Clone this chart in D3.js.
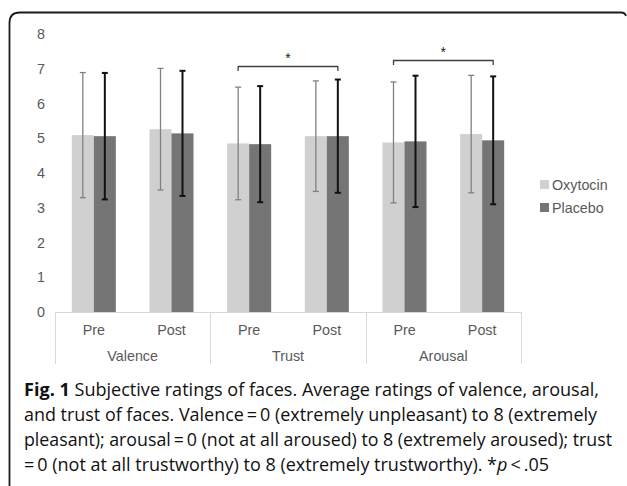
<!DOCTYPE html>
<html><head><meta charset="utf-8">
<script src="https://cdn.jsdelivr.net/npm/d3@7"></script>
<style>body{margin:0;background:#fff}svg{display:block}</style>
</head><body>
<svg id="c" width="627" height="486"></svg>
<script>
// ---- data ----
const groups = ["Valence", "Trust", "Arousal"];
const phases = ["Pre", "Post"];
const seriesNames = ["Oxytocin", "Placebo"];
const oxytocinMean = [5.09, 5.26, 4.85, 5.06, 4.88, 5.12];
const placeboMean  = [5.06, 5.14, 4.83, 5.06, 4.91, 4.94];
const oxytocinSD   = [1.80, 1.75, 1.62, 1.59, 1.74, 1.69];
const placeboSD    = [1.82, 1.80, 1.67, 1.63, 1.89, 1.84];
const yTicks = [0, 1, 2, 3, 4, 5, 6, 7, 8];
const sigGroups = ["Trust", "Arousal"];
const sigLevels = [7.07, 7.25];
const captionBold = "Fig. 1";
const captionLines = [
  " Subjective ratings of faces. Average ratings of valence, arousal,",
  "and trust of faces. Valence\u2009=\u20090 (extremely unpleasant) to 8 (extremely",
  "pleasant); arousal\u2009=\u20090 (not at all aroused) to 8 (extremely aroused); trust",
  "=\u20090 (not at all trustworthy) to 8 (extremely trustworthy). *"
];

const svg = d3.select("#c");
const fill = ["#d0d0d0", "#757575"];
const errCol = ["#808080", "#111111"];
const errW = [1.3, 2];
const axisCol = "#595959";
const font = "'Liberation Sans', Arial, sans-serif";

// frame
svg.append("path")
  .attr("d", "M9.5,486 V23 Q9.5,12.5 20,12.5 H621 Q625,12.5 626,16")
  .attr("fill", "none").attr("stroke", "#1a1a1a").attr("stroke-width", 1.8);

// scales
const y = d3.scaleLinear().domain([0, 8]).range([312, 34]);
const cats = [];
groups.forEach(g => phases.forEach(p => cats.push(g + "|" + p)));
const x0 = d3.scaleBand().domain(cats).range([55, 521]).paddingInner(0).paddingOuter(0);
const xg = d3.scaleBand().domain(groups).range([55, 521]);
const bw = 22;
const xs = d3.scaleBand().domain(seriesNames).range([-bw, bw]);

// y axis labels
const yAxis = d3.axisLeft(y).tickValues(yTicks).tickSize(0).tickPadding(0);
const ya = svg.append("g").attr("transform", "translate(45,0)").call(yAxis);
ya.select(".domain").remove();
ya.selectAll("text").attr("font-family", font).attr("font-size", 14.3).attr("fill", axisCol);

// category axis
const axG = svg.append("g");
axG.append("line").attr("x1", 55).attr("x2", 521).attr("y1", y(0) + 0.5).attr("y2", y(0) + 0.5)
  .attr("stroke", "#d9d9d9").attr("stroke-width", 1);
const bounds = groups.map(g => xg(g)).concat([xg.range()[1]]);
axG.selectAll("line.sep").data(bounds).join("line").attr("class", "sep")
  .attr("x1", d => Math.round(d) + 0.5).attr("x2", d => Math.round(d) + 0.5)
  .attr("y1", y(0)).attr("y2", 364).attr("stroke", "#d9d9d9");
axG.selectAll("text.ph").data(cats).join("text").attr("class", "ph")
  .attr("x", d => x0(d) + x0.bandwidth() / 2).attr("y", 335)
  .attr("text-anchor", "middle").attr("font-family", font).attr("font-size", 14.3).attr("fill", axisCol)
  .text(d => d.split("|")[1]);
axG.selectAll("text.gr").data(groups).join("text").attr("class", "gr")
  .attr("x", d => xg(d) + xg.bandwidth() / 2).attr("y", 361)
  .attr("text-anchor", "middle").attr("font-family", font).attr("font-size", 14.3).attr("fill", axisCol)
  .text(d => d);

// bars
const means = [oxytocinMean, placeboMean];
const sds = [oxytocinSD, placeboSD];
seriesNames.forEach((s, si) => {
  const data = cats.map((c, i) => ({ c, v: means[si][i], sd: sds[si][i] }));
  const cx = d => x0(d.c) + x0.bandwidth() / 2 + xs(s);
  svg.append("g").selectAll("rect").data(data).join("rect")
    .attr("x", cx).attr("width", xs.bandwidth())
    .attr("y", d => y(d.v)).attr("height", d => y(0) - y(d.v))
    .attr("fill", fill[si]);
});
seriesNames.forEach((s, si) => {
  const data = cats.map((c, i) => ({ c, v: means[si][i], sd: sds[si][i] }));
  const mx = d => x0(d.c) + x0.bandwidth() / 2 + xs(s) + xs.bandwidth() / 2;
  const eg = svg.append("g").attr("stroke", errCol[si]).attr("stroke-width", errW[si]);
  eg.selectAll("line.v").data(data).join("line").attr("class", "v")
    .attr("x1", mx).attr("x2", mx).attr("y1", d => y(d.v + d.sd)).attr("y2", d => y(d.v - d.sd));
  eg.selectAll("line.t").data(data).join("line").attr("class", "t")
    .attr("x1", d => mx(d) - 3).attr("x2", d => mx(d) + 3).attr("y1", d => y(d.v + d.sd)).attr("y2", d => y(d.v + d.sd));
  eg.selectAll("line.b").data(data).join("line").attr("class", "b")
    .attr("x1", d => mx(d) - 3).attr("x2", d => mx(d) + 3).attr("y1", d => y(d.v - d.sd)).attr("y2", d => y(d.v - d.sd));
});

// significance brackets
sigGroups.forEach((g, i) => {
  const xa = x0(g + "|Pre") + x0.bandwidth() / 2 + xs("Oxytocin") + xs.bandwidth() / 2;
  const xb = x0(g + "|Post") + x0.bandwidth() / 2 + xs("Placebo") + xs.bandwidth() / 2;
  const yy = Math.round(y(sigLevels[i])) + 0.5;
  svg.append("path").attr("d", `M${xa},${yy + 4.5} V${yy} H${xb} V${yy + 4.5}`)
    .attr("fill", "none").attr("stroke", "#404040").attr("stroke-width", 1.3);
  svg.append("text").attr("x", (xa + xb) / 2).attr("y", yy - 4)
    .attr("text-anchor", "middle").attr("font-family", font).attr("font-size", 14).attr("fill", "#222")
    .text("*");
});

// legend
const lg = svg.append("g");
seriesNames.forEach((s, i) => {
  lg.append("rect").attr("x", 540).attr("y", 180 + i * 23).attr("width", 9).attr("height", 9).attr("fill", fill[i]);
  lg.append("text").attr("x", 552).attr("y", 189.5 + i * 23).attr("font-family", font)
    .attr("font-size", 14.3).attr("fill", axisCol).text(s);
});

// caption
const capFont = "'Open Sans', 'Noto Sans', sans-serif";
const ends = [599, 597, 612, 549];
captionLines.forEach((line, i) => {
  const t = svg.append("text").attr("x", 24).attr("y", 396 + i * 25)
    .attr("font-family", capFont).attr("font-size", 18).attr("fill", "#111");
  if (i === 0) t.append("tspan").attr("font-weight", "bold").text(captionBold);
  t.append("tspan").text(line);
  if (i === 3) {
    t.append("tspan").attr("font-style", "italic").text("p");
    t.append("tspan").text("\u2009<\u2009.05");
  }
  t.attr("textLength", ends[i] - 24).attr("lengthAdjust", "spacingAndGlyphs");
});
</script>
</body></html>
